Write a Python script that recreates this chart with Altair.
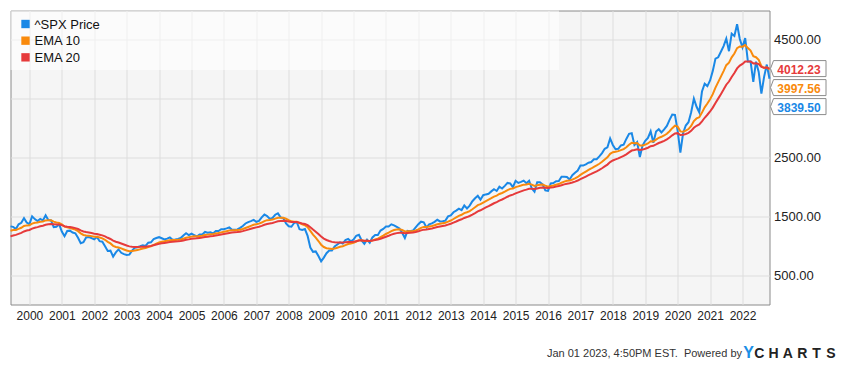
import altair as alt
import pandas as pd

# ---------------- data (monthly closes, Jul 1999 .. Dec 2022) ----------------
START_YEAR, START_MONTH = 1999, 7

spx_price = [
    1328.72, 1320.41, 1282.71, 1362.93, 1388.91, 1469.25,                                          # 1999 Jul-Dec
    1394.46, 1366.42, 1498.58, 1452.43, 1420.60, 1454.60, 1430.83, 1517.68, 1436.51, 1429.40, 1314.95, 1320.28,  # 2000
    1366.01, 1239.94, 1160.33, 1249.46, 1255.82, 1224.38, 1211.23, 1133.58, 1040.94, 1059.78, 1139.45, 1148.08,  # 2001
    1130.20, 1106.73, 1147.39, 1076.92, 1067.14, 989.82, 911.62, 916.07, 815.28, 885.76, 936.31, 879.82,         # 2002
    855.70, 841.15, 848.18, 916.92, 963.59, 974.50, 990.31, 1008.01, 995.97, 1050.71, 1058.20, 1111.92,          # 2003
    1131.13, 1144.94, 1126.21, 1107.30, 1120.68, 1140.84, 1101.72, 1104.24, 1114.58, 1130.20, 1173.82, 1211.92,  # 2004
    1181.27, 1203.60, 1180.59, 1156.85, 1191.50, 1191.33, 1234.18, 1220.33, 1228.81, 1207.01, 1249.48, 1248.29,  # 2005
    1280.08, 1280.66, 1294.83, 1310.61, 1270.09, 1270.20, 1276.66, 1303.82, 1335.85, 1377.94, 1400.63, 1418.30,  # 2006
    1438.24, 1406.82, 1420.86, 1482.37, 1530.62, 1503.35, 1455.27, 1473.99, 1526.75, 1549.38, 1481.14, 1468.36,  # 2007
    1378.55, 1330.63, 1322.70, 1385.59, 1400.38, 1280.00, 1267.38, 1282.83, 1166.36, 968.75, 896.24, 903.25,     # 2008
    825.88, 735.09, 797.87, 872.81, 919.14, 919.32, 987.48, 1020.62, 1057.08, 1036.19, 1095.63, 1115.10,         # 2009
    1073.87, 1104.49, 1169.43, 1186.69, 1089.41, 1030.71, 1101.60, 1049.33, 1141.20, 1183.26, 1180.55, 1257.64,  # 2010
    1286.12, 1327.22, 1325.83, 1363.61, 1345.20, 1320.64, 1292.28, 1218.89, 1131.42, 1253.30, 1246.96, 1257.60,  # 2011
    1312.41, 1365.68, 1408.47, 1397.91, 1310.33, 1362.16, 1379.32, 1406.58, 1440.67, 1412.16, 1416.18, 1426.19,  # 2012
    1498.11, 1514.68, 1569.19, 1597.57, 1630.74, 1606.28, 1685.73, 1632.97, 1681.55, 1756.54, 1805.81, 1848.36,  # 2013
    1782.59, 1859.45, 1872.34, 1883.95, 1923.57, 1960.23, 1930.67, 2003.37, 1972.29, 2018.05, 2067.56, 2058.90,  # 2014
    1994.99, 2104.50, 2067.89, 2085.51, 2107.39, 2063.11, 2103.84, 1972.18, 1920.03, 2079.36, 2080.41, 2043.94,  # 2015
    1940.24, 1932.23, 2059.74, 2065.30, 2096.95, 2098.86, 2173.60, 2170.95, 2168.27, 2126.15, 2198.81, 2238.83,  # 2016
    2278.87, 2363.64, 2362.72, 2384.20, 2411.80, 2423.41, 2470.30, 2471.65, 2519.36, 2575.26, 2647.58, 2673.61,  # 2017
    2823.81, 2713.83, 2640.87, 2648.05, 2705.27, 2718.37, 2816.29, 2901.52, 2913.98, 2711.74, 2760.17, 2506.85,  # 2018
    2704.10, 2784.49, 2834.40, 2945.83, 2752.06, 2941.76, 2980.38, 2926.46, 2976.74, 3037.56, 3140.98, 3230.78,  # 2019
    3225.52, 2954.22, 2584.59, 2912.43, 3044.31, 3100.29, 3271.12, 3500.31, 3363.00, 3269.96, 3621.63, 3756.07,  # 2020
    3714.24, 3811.15, 3972.89, 4181.17, 4204.11, 4297.50, 4395.26, 4522.68, 4307.54, 4605.38, 4567.00, 4766.18,  # 2021
    4515.55, 4373.94, 4530.41, 4131.93, 4132.15, 3785.38, 4130.29, 3955.00, 3585.62, 3871.98, 4080.11, 3839.50,  # 2022
]

ema_10 = [
    1253.0, 1265.3, 1268.5, 1285.7, 1304.5, 1334.5,
    1345.4, 1349.2, 1376.4, 1390.2, 1395.7, 1406.4, 1410.8, 1430.2, 1431.3, 1431.0, 1409.9, 1393.6,
    1388.6, 1361.6, 1325.0, 1311.3, 1301.2, 1287.2, 1273.4, 1248.0, 1210.3, 1182.9, 1175.0, 1170.1,
    1162.8, 1152.6, 1151.7, 1138.1, 1125.2, 1100.6, 1066.2, 1038.9, 998.2, 977.8, 970.3, 953.8,
    936.0, 918.7, 905.9, 907.9, 918.0, 928.3, 939.6, 952.0, 960.0, 976.5, 991.4, 1013.3,
    1034.7, 1054.7, 1067.7, 1074.9, 1083.2, 1093.7, 1095.2, 1096.8, 1100.0, 1105.5, 1117.9, 1135.0,
    1143.4, 1154.3, 1159.1, 1158.7, 1164.7, 1169.5, 1181.3, 1188.4, 1195.7, 1197.8, 1207.2, 1214.7,
    1226.6, 1236.4, 1247.0, 1258.6, 1260.7, 1262.4, 1265.0, 1272.1, 1283.7, 1300.8, 1318.9, 1337.0,
    1355.4, 1364.7, 1374.9, 1394.4, 1419.2, 1434.5, 1438.3, 1444.8, 1459.7, 1476.0, 1476.9, 1475.4,
    1457.8, 1434.7, 1414.3, 1409.1, 1407.5, 1384.3, 1363.0, 1348.4, 1315.3, 1252.3, 1187.6, 1135.9,
    1079.5, 1016.9, 977.1, 958.1, 951.0, 945.2, 952.9, 965.2, 981.9, 991.8, 1010.7, 1029.7,
    1037.7, 1049.8, 1071.5, 1092.4, 1091.9, 1080.8, 1084.6, 1078.2, 1089.7, 1106.7, 1120.1, 1145.1,
    1170.7, 1199.2, 1222.2, 1247.9, 1265.6, 1275.6, 1278.6, 1267.7, 1242.9, 1244.8, 1245.2, 1247.5,
    1259.3, 1278.6, 1302.2, 1319.6, 1317.9, 1326.0, 1335.7, 1348.6, 1365.3, 1373.8, 1381.5, 1389.6,
    1409.3, 1428.5, 1454.1, 1480.2, 1507.6, 1525.5, 1554.6, 1568.9, 1589.4, 1619.8, 1653.6, 1689.0,
    1706.0, 1733.9, 1759.1, 1781.8, 1807.6, 1835.3, 1852.6, 1880.0, 1896.8, 1918.9, 1945.9, 1966.4,
    1971.6, 1995.8, 2008.9, 2022.8, 2038.2, 2042.7, 2053.8, 2039.0, 2017.4, 2028.7, 2038.1, 2039.2,
    2021.2, 2005.0, 2014.9, 2024.1, 2037.4, 2048.6, 2071.3, 2089.4, 2103.7, 2107.8, 2124.3, 2145.1,
    2169.4, 2204.7, 2233.4, 2260.8, 2288.3, 2312.9, 2341.5, 2365.2, 2393.2, 2426.3, 2466.5, 2504.2,
    2562.3, 2589.8, 2599.1, 2608.0, 2625.7, 2642.6, 2674.2, 2715.5, 2751.6, 2744.3, 2747.2, 2703.5,
    2703.6, 2718.3, 2739.4, 2776.9, 2772.4, 2803.2, 2835.4, 2852.0, 2874.7, 2904.3, 2947.3, 2998.8,
    3040.0, 3024.4, 2944.4, 2938.6, 2957.8, 2983.7, 3036.0, 3120.4, 3164.5, 3183.7, 3263.3, 3352.9,
    3418.6, 3490.0, 3577.8, 3687.5, 3781.4, 3875.2, 3969.8, 4070.3, 4113.4, 4202.8, 4269.0, 4359.4,
    4387.8, 4385.3, 4411.7, 4360.8, 4319.2, 4222.2, 4205.5, 4160.0, 4055.6, 4022.2, 4032.7, 3997.56,
]

ema_20 = [
    1158.0, 1173.5, 1183.9, 1200.9, 1218.8, 1242.6,
    1257.1, 1267.5, 1289.5, 1305.0, 1316.0, 1329.2, 1338.9, 1355.9, 1363.6, 1369.9, 1364.7, 1360.5,
    1361.0, 1349.5, 1331.5, 1323.7, 1317.2, 1308.4, 1299.1, 1283.3, 1260.2, 1241.1, 1231.4, 1223.5,
    1214.6, 1204.3, 1198.9, 1187.3, 1175.9, 1158.2, 1134.7, 1113.9, 1085.5, 1066.5, 1054.1, 1037.5,
    1020.2, 1003.2, 988.4, 981.6, 979.9, 979.4, 980.4, 983.0, 984.2, 990.5, 996.9, 1007.8,
    1019.5, 1031.4, 1040.4, 1046.8, 1053.8, 1062.1, 1065.9, 1069.5, 1073.8, 1079.2, 1088.2, 1100.0,
    1107.7, 1116.8, 1122.9, 1126.1, 1132.3, 1137.9, 1147.1, 1154.1, 1161.2, 1165.6, 1173.6, 1180.7,
    1190.2, 1198.8, 1207.9, 1217.7, 1222.7, 1227.2, 1231.9, 1238.7, 1248.0, 1260.4, 1273.7, 1287.5,
    1301.8, 1311.8, 1322.2, 1337.5, 1355.9, 1369.9, 1378.0, 1387.1, 1400.4, 1414.6, 1420.9, 1425.4,
    1420.9, 1412.3, 1403.8, 1402.1, 1401.9, 1390.3, 1378.6, 1369.5, 1350.2, 1313.9, 1274.1, 1238.8,
    1199.5, 1155.3, 1121.3, 1097.6, 1080.6, 1065.2, 1057.8, 1054.3, 1054.6, 1052.8, 1056.9, 1062.4,
    1063.5, 1067.4, 1077.1, 1087.5, 1087.7, 1082.3, 1084.1, 1080.8, 1086.6, 1095.8, 1103.9, 1118.5,
    1134.5, 1152.8, 1169.3, 1187.8, 1202.8, 1214.0, 1221.5, 1221.3, 1212.7, 1216.6, 1219.5, 1223.1,
    1231.6, 1244.4, 1260.0, 1273.1, 1276.6, 1284.7, 1293.7, 1304.4, 1317.4, 1326.4, 1334.9, 1343.6,
    1358.3, 1373.2, 1391.9, 1411.5, 1432.4, 1449.0, 1471.5, 1486.9, 1505.4, 1529.3, 1555.6, 1583.5,
    1602.5, 1627.0, 1650.4, 1672.6, 1696.5, 1721.6, 1741.5, 1766.4, 1786.0, 1808.1, 1832.8, 1854.3,
    1867.7, 1890.2, 1907.1, 1924.1, 1941.6, 1953.2, 1967.5, 1967.9, 1963.3, 1974.4, 1984.5, 1990.2,
    1985.4, 1980.3, 1987.9, 1995.3, 2005.0, 2013.9, 2029.1, 2042.6, 2054.6, 2061.4, 2074.5, 2090.1,
    2108.1, 2132.4, 2154.3, 2176.2, 2198.6, 2220.0, 2243.8, 2265.5, 2289.7, 2316.9, 2348.4, 2379.4,
    2421.7, 2449.5, 2467.7, 2484.9, 2505.9, 2526.1, 2553.7, 2586.8, 2617.9, 2626.8, 2639.5, 2626.9,
    2634.2, 2648.5, 2666.2, 2692.8, 2698.4, 2721.6, 2746.2, 2763.4, 2783.7, 2807.9, 2839.6, 2876.8,
    2910.0, 2914.2, 2882.8, 2885.6, 2900.7, 2919.7, 2953.2, 3005.3, 3039.4, 3061.4, 3114.7, 3175.8,
    3227.1, 3282.7, 3348.4, 3427.7, 3501.6, 3577.4, 3655.3, 3737.9, 3792.1, 3869.5, 3935.9, 4014.9,
    4062.6, 4092.2, 4133.9, 4133.7, 4133.5, 4100.4, 4103.2, 4089.1, 4041.2, 4025.1, 4030.3, 4012.23,
]

series_names = ["^SPX Price", "EMA 10", "EMA 20"]
series_colors = ["#1a88e6", "#f98a0c", "#e63a3b"]
series_values = [spx_price, ema_10, ema_20]

year_ticks = list(range(2000, 2023))
y_ticks = [500, 1500, 2500, 3500, 4500]
y_domain = [0, 5000]

footer_text = "Jan 01 2023, 4:50PM EST.\u00a0 Powered by"
logo_first = "Y"
logo_rest = ["C", "H", "A", "R", "T", "S"]

FONT = "Liberation Sans"

# ---------------- build table ----------------
rows = []
for name, vals in zip(series_names, series_values):
    for i, v in enumerate(vals):
        t = START_YEAR + (START_MONTH - 2 + i) / 12.0
        rows.append({"series": name, "t": t, "value": v})
df = pd.DataFrame(rows)

x_start = START_YEAR + (START_MONTH - 2) / 12.0
x_end = START_YEAR + (START_MONTH - 2 + len(spx_price) - 1) / 12.0

W, H = 759, 294

x_enc = alt.X(
    "t:Q",
    scale=alt.Scale(domain=[x_start, x_end], nice=False, zero=False),
    axis=alt.Axis(values=year_ticks, format="d", title=None, ticks=False, domain=False,
                  labelPadding=6, labelFontSize=12, labelColor="#222222", labelFont=FONT,
                  gridColor="#dddddd", gridWidth=1, labelFlush=False, labelOverlap=False,
                  tickCount=30),
)
y_enc = alt.Y(
    "value:Q",
    scale=alt.Scale(domain=y_domain, nice=False, zero=False),
    axis=alt.Axis(orient="right", values=y_ticks, title=None, ticks=False, domain=False,
                  labelExpr="datum.value == 3500 ? '' : format(datum.value, '.2f')",
                  labelPadding=4, labelFontSize=13, labelColor="#222222", labelFont=FONT,
                  gridColor="#dddddd", gridWidth=1),
)

one = pd.DataFrame({"t": [x_end], "value": [0.0]})
layers = []

# legend background panel
layers.append(
    alt.Chart(one).mark_rect(fill="white", opacity=0.55).encode(
        x=alt.value(0), x2=alt.value(548.5), y=alt.value(0), y2=alt.value(59.5)
    )
)

# series lines
for name, color in zip(series_names, series_colors):
    layers.append(
        alt.Chart(df[df["series"] == name]).mark_line(color=color, strokeWidth=2, interpolate="linear")
        .encode(x=x_enc, y=y_enc)
    )

# legend
for k, (name, color) in enumerate(zip(series_names, series_colors)):
    yy = 13.5 + 16.67 * k
    layers.append(
        alt.Chart(one).mark_square(size=70, color=color, opacity=1, filled=True).encode(
            x=alt.value(15), y=alt.value(yy)
        )
    )
    layers.append(
        alt.Chart(one).mark_text(align="left", baseline="middle", fontSize=13, font=FONT,
                                 color="#111111", text=name).encode(
            x=alt.value(24), y=alt.value(yy + 0.5)
        )
    )

# last-value tags on the right
TAG = "M -3.09 -1 L 3.47 -1 L 3.47 1 L -3.09 1 L -3.47 0 Z"
last_vals = [vals[-1] for vals in series_values]
order = sorted(range(len(series_names)), key=lambda j: -last_vals[j])
anchor = last_vals[order[0]]
for k, j in enumerate(order):
    tag_df = pd.DataFrame({"t": [x_end], "value": [anchor], "label": [f"{last_vals[j]:.2f}"]})
    layers.append(
        alt.Chart(tag_df).mark_point(shape=TAG, size=256, filled=True, fill="white",
                                     stroke="#8c8c8c", strokeWidth=1, opacity=1,
                                     xOffset=28.75, yOffset=19 * k).encode(
            x=x_enc, y=y_enc
        )
    )
    layers.append(
        alt.Chart(tag_df).mark_text(align="left", baseline="middle", fontSize=12, fontWeight="bold",
                                    font=FONT, color=series_colors[j], dx=7.8, dy=19 * k + 1.5).encode(
            x=x_enc, y=y_enc, text="label:N"
        )
    )

# footer
layers.append(
    alt.Chart(one).mark_text(align="right", baseline="alphabetic", fontSize=11, font=FONT,
                             color="#333333", text=footer_text).encode(
        x=alt.value(731.5), y=alt.value(346.8)
    )
)
layers.append(
    alt.Chart(one).mark_text(align="center", baseline="alphabetic", fontSize=16, fontWeight="bold",
                             font=FONT, color="#1b8fe6", text=logo_first).encode(
        x=alt.value(738.2), y=alt.value(347.5)
    )
)
for k, ch in enumerate(logo_rest):
    layers.append(
        alt.Chart(one).mark_text(align="center", baseline="alphabetic", fontSize=14, fontWeight="bold",
                                 font=FONT, color="#222222", text=ch).encode(
            x=alt.value(748.8 + 14.3 * k), y=alt.value(347.5)
        )
    )

chart = alt.layer(*layers).properties(
    width=W, height=H,
    autosize=alt.AutoSizeParams(type="none"),
    padding={"left": 2.5, "top": 2.5, "right": 72.5, "bottom": 55.5},
    background="white",
).configure_view(
    fill="#f5f5f5", stroke="#8a8a8a", strokeWidth=1
)

chart.save("out.html", embed_options={"renderer": "svg", "actions": False})
